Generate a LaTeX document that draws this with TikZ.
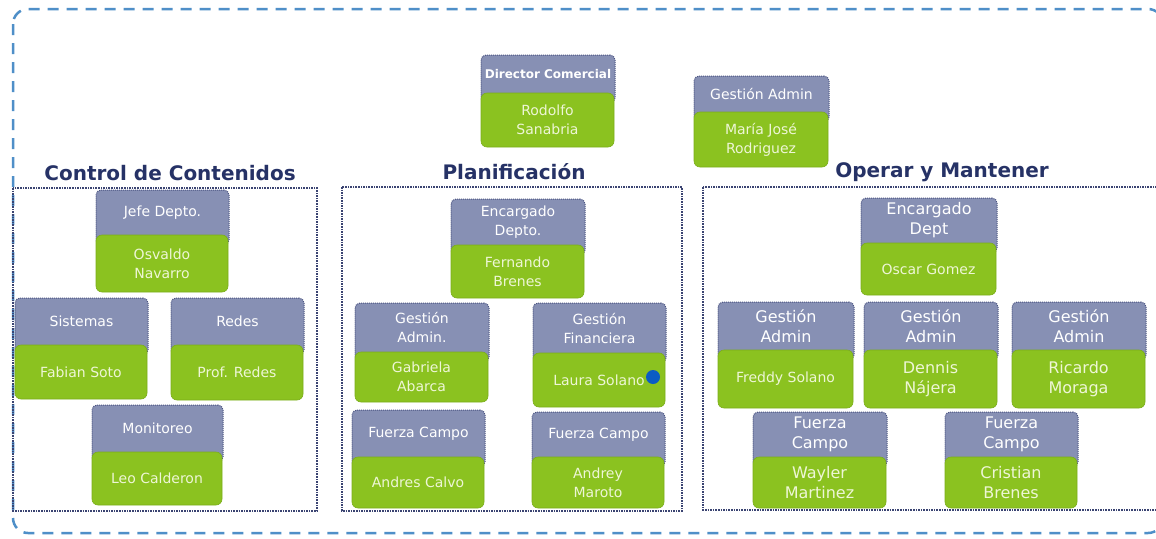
\documentclass[tikz,border=0pt]{standalone}
\usepackage{fontspec}
\setmainfont{DejaVu Sans}
\definecolor{outerblue}{HTML}{4F8FC8}
\definecolor{navy}{HTML}{263266}
\definecolor{secline}{HTML}{3B4472}
\definecolor{grayfill}{HTML}{8790B4}
\definecolor{grayline}{HTML}{4A5380}
\definecolor{grn}{HTML}{8BC220}
\definecolor{grnline}{HTML}{7BAE1A}
\definecolor{grntxt}{HTML}{EEF6D6}
\definecolor{dotblue}{HTML}{0B5CC4}
\tikzset{
  grayb/.style={fill=grayfill, draw=grayline, densely dotted, line width=1pt, rounded corners=5pt, inner sep=0pt, outer sep=0pt},
  graytxt/.style={text=white, align=center, inner sep=0pt, font=\fontsize{14}{19}\selectfont},
  greenb/.style={fill=grn, draw=grnline, line width=0.6pt, rounded corners=6pt, inner sep=0pt, outer sep=0pt, text=grntxt, align=center, font=\fontsize{14}{19}\selectfont},
  bigtxt/.style={font=\fontsize{16}{20}\selectfont},
  boldtxt/.style={font=\fontsize{12}{16}\selectfont\bfseries},
  cardtop/.style={},
  cardbot/.style={},
  sectitle/.style={text=navy, font=\fontsize{20}{24}\selectfont\bfseries, inner sep=0pt},
  secbox/.style={draw=secline, densely dotted, line width=1.6pt},
  outerbox/.style={draw=outerblue, line width=2.5pt, dash pattern=on 11pt off 8pt, rounded corners=15pt}
}
% name, xl, xr, ytop, ymid, ybot, top text, bottom text
\newcommand\orgcard[8]{%
  \node[grayb, anchor=north west, minimum width={#3pt-#2pt}, minimum height={#5pt-#4pt+10pt}] (#1g) at (#2,#4) {};
  \node[graytxt, cardtop] (#1t) at ({(#2+#3)/2},{(#4+#5)/2}) {#7};
  \node[greenb, cardbot, anchor=north west, minimum width={#3pt-#2pt-1pt}, minimum height={#6pt-#5pt}] (#1n) at (#2,#5) {#8};
}
\begin{document}
\begin{tikzpicture}[x=1pt,y=-1pt]
\useasboundingbox (0,0) rectangle (1156,538);
\fill[white] (0,0) rectangle (1156,538);
% outer frame
\draw[outerbox] (13,9) rectangle (1163,533);
% section titles
\node[sectitle] (t1) at (170,173) {Control de Contenidos};
\node[sectitle] (t2) at (514,172) {Planificación};
\node[sectitle] (t3) at (942,172) {Operar y Mantener};
% section frames
\draw[secbox] (13,188) rectangle (317,511);
\draw[secbox] (342,187) rectangle (682,511);
\draw[secbox] (703,187) rectangle (1162,510);
% top cards
\tikzset{cardtop/.style={boldtxt}}
\orgcard{dir}{481}{615}{55}{93}{147}{Director Comercial}{Rodolfo\\Sanabria}
\tikzset{cardtop/.style={}}
\orgcard{gam}{694}{829}{76}{112}{167}{Gestión Admin}{María José\\Rodriguez}
% Control de Contenidos
\orgcard{jefe}{96}{229}{190}{235}{292}{Jefe Depto.}{Osvaldo\\Navarro}
\orgcard{sis}{15}{148}{298}{345}{399}{Sistemas}{Fabian Soto}
\orgcard{red}{171}{304}{298}{345}{400}{Redes}{Prof. Redes}
\orgcard{mon}{92}{223}{405}{452}{505}{Monitoreo}{Leo Calderon}
% Planificacion
\orgcard{enc}{451}{585}{199}{245}{298}{Encargado\\Depto.}{Fernando\\Brenes}
\orgcard{gad}{355}{489}{303}{352}{402}{Gestión\\Admin.}{Gabriela\\Abarca}
\orgcard{gfi}{533}{666}{303}{353}{407}{Gestión\\Financiera}{Laura Solano}
\orgcard{fca}{352}{485}{410}{457}{508}{Fuerza Campo}{Andres Calvo}
\orgcard{fcb}{532}{665}{412}{457}{508}{Fuerza Campo}{Andrey\\Maroto}
\node[circle, fill=dotblue, minimum size=14pt, inner sep=0pt] (dot) at (653,377) {};
% Operar y Mantener
\tikzset{cardtop/.style={bigtxt}}
\orgcard{ode}{861}{997}{198}{243}{295}{Encargado\\Dept}{Oscar Gomez}
\orgcard{oga}{718}{854}{302}{350}{408}{Gestión\\Admin}{Freddy Solano}
\tikzset{cardbot/.style={bigtxt}}
\orgcard{ogb}{864}{998}{302}{350}{408}{Gestión\\Admin}{Dennis\\Nájera}
\orgcard{ogc}{1012}{1146}{302}{350}{408}{Gestión\\Admin}{Ricardo\\Moraga}
\orgcard{ofa}{753}{887}{412}{457}{508}{Fuerza\\Campo}{Wayler\\Martinez}
\orgcard{ofb}{945}{1078}{412}{457}{508}{Fuerza\\Campo}{Cristian\\Brenes}
\end{tikzpicture}
\end{document}
